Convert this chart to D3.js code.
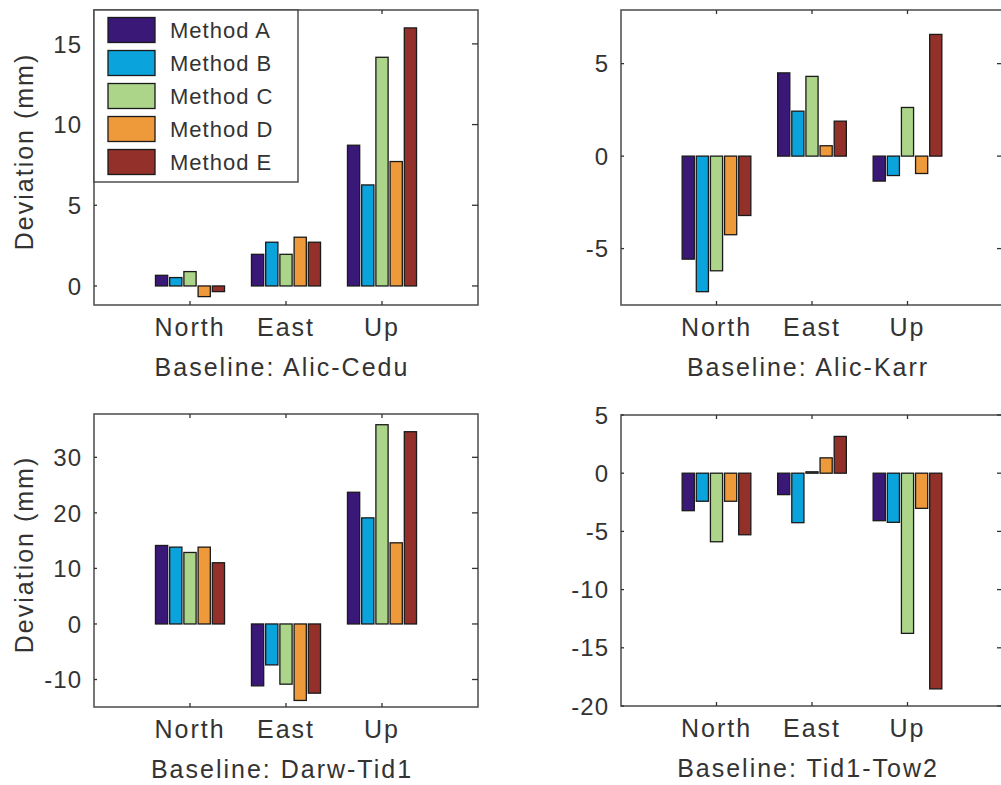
<!DOCTYPE html>
<html>
<head>
<meta charset="utf-8">
<script src="https://cdn.jsdelivr.net/npm/d3@7"></script>
<style>
    body { margin: 0; background: #fff; }
    text { font-family: "Liberation Sans", Arial, sans-serif; fill: #333; }
</style>
</head>
<body>
<div id="chart"></div>
<script>
const components = ["North", "East", "Up"];
const methods = ["Method A", "Method B", "Method C", "Method D", "Method E"];
const colors = ["#3a1878", "#0ba3dc", "#acd58a", "#ef9a3a", "#93302a"];

// values per method, in order North / East / Up
const alicCedu = [
    [0.66, 1.96, 8.72],
    [0.52, 2.71, 6.26],
    [0.89, 1.96, 14.17],
    [-0.66, 3.02, 7.71],
    [-0.35, 2.71, 15.99]
];
const alicKarr = [
    [-5.57, 4.50, -1.35],
    [-7.33, 2.43, -1.05],
    [-6.20, 4.31, 2.63],
    [-4.25, 0.56, -0.94],
    [-3.21, 1.89, 6.58]
];
const darwTid1 = [
    [14.13, -11.14, 23.71],
    [13.83, -7.37, 19.10],
    [12.87, -10.84, 35.87],
    [13.83, -13.77, 14.61],
    [11.02, -12.46, 34.61]
];
const tid1Tow2 = [
    [-3.22, -1.84, -4.08],
    [-2.41, -4.25, -4.22],
    [-5.89, 0.12, -13.76],
    [-2.41, 1.32, -3.02],
    [-5.29, 3.16, -18.53]
];

const panels = [
    { title: "Baseline: Alic-Cedu", data: alicCedu, domain: [-1.18, 17.1], ticks: [0, 5, 10, 15], x: 94, y: 10, w: 384, h: 295, ylabel: true, legend: true },
    { title: "Baseline: Alic-Karr", data: alicKarr, domain: [-8.05, 7.9], ticks: [-5, 0, 5], x: 621, y: 10, w: 382, h: 295 },
    { title: "Baseline: Darw-Tid1", data: darwTid1, domain: [-14.95, 37.8], ticks: [-10, 0, 10, 20, 30], x: 94, y: 414, w: 384, h: 293, ylabel: true },
    { title: "Baseline: Tid1-Tow2", data: tid1Tow2, domain: [-20, 5], ticks: [-20, -15, -10, -5, 0, 5], x: 621, y: 415, w: 382, h: 291 }
];

const width = 1001;
const height = 785;
const slot = 0.148;      // group slot per method, in category units
const barFrac = 0.86;

const svg = d3.select("#chart")
    .append("svg")
    .attr("width", width)
    .attr("height", height);

panels.forEach(p => {
    const x = d3.scaleLinear().domain([0, 4]).range([p.x, p.x + p.w]);
    const y = d3.scaleLinear().domain(p.domain).range([p.y + p.h, p.y]);
    const g = svg.append("g");

    // bars
    p.data.forEach((vals, m) => {
        g.selectAll(null)
            .data(vals)
            .enter()
            .append("rect")
            .attr("x", (d, i) => x(i + 1 + (m - 2) * slot - slot * barFrac / 2))
            .attr("width", x(slot * barFrac) - x(0))
            .attr("y", d => y(Math.max(0, d)))
            .attr("height", d => Math.abs(y(d) - y(0)))
            .attr("fill", colors[m])
            .attr("stroke", "#1a1a1a")
            .attr("stroke-width", 1.3);
    });

    // frame
    g.append("rect")
        .attr("x", p.x).attr("y", p.y)
        .attr("width", p.w).attr("height", p.h)
        .attr("fill", "none")
        .attr("stroke", "#555")
        .attr("stroke-width", 1.6);

    // y ticks, both sides
    p.ticks.forEach(t => {
        g.append("line")
            .attr("x1", p.x).attr("x2", p.x + 3)
            .attr("y1", y(t)).attr("y2", y(t))
            .attr("stroke", "#333").attr("stroke-width", 1.3);
        g.append("line")
            .attr("x1", p.x + p.w - 6).attr("x2", p.x + p.w)
            .attr("y1", y(t)).attr("y2", y(t))
            .attr("stroke", "#333").attr("stroke-width", 1.3);
        g.append("text")
            .attr("x", p.x - 12)
            .attr("y", y(t))
            .attr("dy", "0.36em")
            .attr("text-anchor", "end")
            .style("font-size", "24px")
            .style("letter-spacing", "1px")
            .text(t);
    });

    // x ticks, top and bottom
    components.forEach((c, i) => {
        const cx = x(i + 1);
        g.append("line")
            .attr("x1", cx).attr("x2", cx)
            .attr("y1", p.y + p.h).attr("y2", p.y + p.h - 4)
            .attr("stroke", "#333").attr("stroke-width", 1.3);
        g.append("line")
            .attr("x1", cx).attr("x2", cx)
            .attr("y1", p.y).attr("y2", p.y + 4)
            .attr("stroke", "#333").attr("stroke-width", 1.3);
        g.append("text")
            .attr("x", cx)
            .attr("y", p.y + p.h + 31)
            .attr("text-anchor", "middle")
            .style("font-size", "25px")
            .style("letter-spacing", "2px")
            .text(c);
    });

    g.append("text")
        .attr("x", x(2) - 4)
        .attr("y", p.y + p.h + 71)
        .attr("text-anchor", "middle")
        .style("font-size", "25px")
        .style("letter-spacing", "2px")
        .text(p.title);

    if (p.ylabel) {
        g.append("text")
            .attr("transform", `translate(24,${p.y + p.h / 2 - 6}) rotate(-90)`)
            .attr("text-anchor", "middle")
            .attr("dy", "0.36em")
            .style("font-size", "25px")
            .style("letter-spacing", "2px")
            .text("Deviation (mm)");
    }

    if (p.legend) {
        const lg = g.append("g");
        lg.append("rect")
            .attr("x", p.x).attr("y", p.y)
            .attr("width", 204).attr("height", 172)
            .attr("fill", "#fff")
            .attr("stroke", "#444")
            .attr("stroke-width", 1.4);
        methods.forEach((m, i) => {
            const cy = p.y + 20 + i * 33;
            lg.append("rect")
                .attr("x", 108).attr("y", cy - 12.5)
                .attr("width", 47).attr("height", 25)
                .attr("fill", colors[i])
                .attr("stroke", "#1a1a1a")
                .attr("stroke-width", 1.3);
            lg.append("text")
                .attr("x", 170).attr("y", cy)
                .attr("dy", "0.36em")
                .style("font-size", "22px")
                .style("letter-spacing", "1px")
                .text(m);
        });
    }
});
</script>
</body>
</html>
